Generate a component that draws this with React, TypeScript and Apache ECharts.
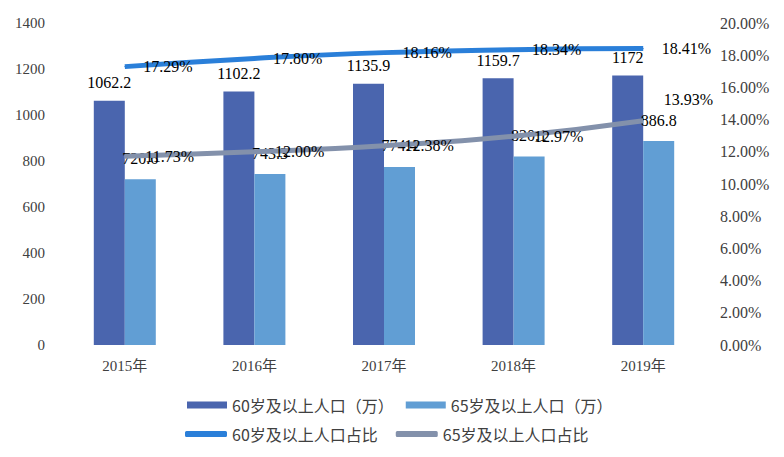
import React, { useEffect, useRef } from "react";
import * as echarts from "echarts";

const categories = ["2015年", "2016年", "2017年", "2018年", "2019年"];
const pop60 = [1062.2, 1102.2, 1135.9, 1159.7, 1172];
const pop65 = [720.6, 743.3, 774.4, 820.1, 886.8];
const ratio60 = [17.29, 17.8, 18.16, 18.34, 18.41];
const ratio65 = [11.73, 12.0, 12.38, 12.97, 13.93];
const seriesNames = ["60岁及以上人口（万）", "65岁及以上人口（万）", "60岁及以上人口占比", "65岁及以上人口占比"];

const SERIF = "'Liberation Serif', 'DejaVu Serif', 'Noto Sans CJK SC', serif";
const SANS = "'Noto Sans CJK SC', 'Noto Sans', sans-serif";

export default function App() {
  const ref = useRef<HTMLDivElement>(null);
  useEffect(() => {
    if (!ref.current) return;
    const chart = echarts.init(ref.current, undefined, { renderer: "svg" });
    const pctLabel = (p: any) => `${Number(p.value).toFixed(2)}%`;
    chart.setOption({
      animation: false,
      grid: { left: 60, right: 76, top: 23, bottom: 112 },
      legend: [
        {
          data: [seriesNames[0], seriesNames[1]],
          left: 182,
          top: 392,
          itemWidth: 40,
          itemHeight: 7,
          itemGap: 12,
          icon: "rect",
          textStyle: { fontFamily: SANS, fontSize: 16, color: "#404040" },
        },
        {
          data: [seriesNames[2], seriesNames[3]],
          left: 180,
          top: 421,
          itemWidth: 42,
          itemHeight: 6,
          itemGap: 18,
          icon: "roundRect",
          textStyle: { fontFamily: SANS, fontSize: 16, color: "#404040" },
        },
      ],
      xAxis: {
        type: "category",
        data: categories,
        axisLine: { show: false },
        axisTick: { show: false },
        axisLabel: { fontFamily: SERIF, fontSize: 15, color: "#404040", margin: 13 },
      },
      yAxis: [
        {
          type: "value",
          min: 0,
          max: 1400,
          interval: 200,
          splitLine: { show: false },
          axisLine: { show: false },
          axisTick: { show: false },
          axisLabel: { fontFamily: SERIF, fontSize: 15, color: "#404040", margin: 15, formatter: (v: number) => String(v) },
        },
        {
          type: "value",
          min: 0,
          max: 20,
          interval: 2,
          splitLine: { show: false },
          axisLine: { show: false },
          axisTick: { show: false },
          axisLabel: {
            fontFamily: SERIF,
            fontSize: 16,
            color: "#404040",
            margin: 12,
            formatter: (v: number) => `${v.toFixed(2)}%`,
          },
        },
      ],
      series: [
        {
          name: seriesNames[0],
          type: "bar",
          data: pop60,
          barWidth: 31,
          barGap: "0%",
          itemStyle: { color: "#4A65AE" },
          label: { show: true, position: "top", distance: 10, fontFamily: SERIF, fontSize: 16, color: "#000" },
        },
        {
          name: seriesNames[1],
          type: "bar",
          data: pop65,
          barWidth: 31,
          barGap: "0%",
          itemStyle: { color: "#619ED4" },
          label: { show: true, position: "top", distance: 13, fontFamily: SERIF, fontSize: 16, color: "#000" },
        },
        {
          name: seriesNames[2],
          type: "line",
          yAxisIndex: 1,
          data: ratio60,
          smooth: true,
          symbol: "circle",
          symbolSize: 1,
          showSymbol: true,
          itemStyle: { color: "#2A7FD9" },
          lineStyle: { color: "#2A7FD9", width: 5 },
          label: { show: true, position: "right", distance: 18, fontFamily: SERIF, fontSize: 16, color: "#000", formatter: pctLabel },
        },
        {
          name: seriesNames[3],
          type: "line",
          yAxisIndex: 1,
          data: ratio65.map((v, i) =>
            i === ratio65.length - 1 ? { value: v, label: { offset: [0, -21] } } : v
          ),
          smooth: true,
          symbol: "circle",
          symbolSize: 1,
          showSymbol: true,
          itemStyle: { color: "#8391AB" },
          lineStyle: { color: "#8391AB", width: 5 },
          label: { show: true, position: "right", distance: 20, fontFamily: SERIF, fontSize: 16, color: "#000", formatter: pctLabel },
        },
      ],
    });
    return () => chart.dispose();
  }, []);
  return <div ref={ref} style={{ width: 784, height: 457, position: "absolute", left: 0, top: 0 }} />;
}
